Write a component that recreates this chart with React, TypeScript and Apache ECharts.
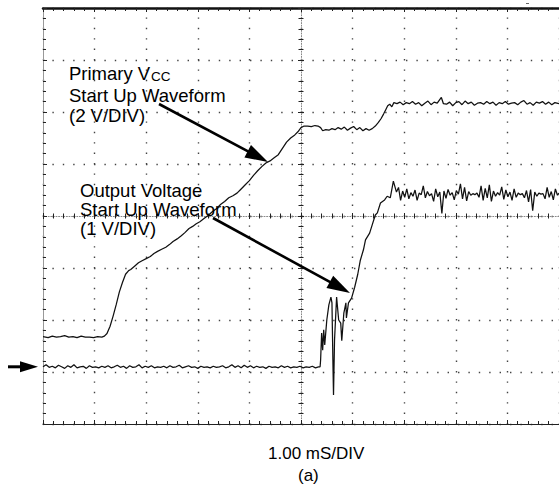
import React, { useEffect, useRef } from "react";
import * as echarts from "echarts";

// Horizontal: time in ms relative to screen centre (1.00 mS/DIV), vertical: divisions from screen centre
const TIME_MIN = -5;
const TIME_MAX = 5;
const DIV_MIN = -4;
const DIV_MAX = 4;

// Primary VCC start-up waveform (2 V/DIV), [time ms, divisions]
const vccTrace: [number, number][] = [
  [-5.0, -2.32], [-4.9, -2.34], [-4.82, -2.31], [-4.74, -2.33], [-4.66, -2.32], [-4.58, -2.3], [-4.5, -2.33],
  [-4.42, -2.32], [-4.34, -2.34], [-4.26, -2.31], [-4.18, -2.33], [-4.1, -2.33], [-4.02, -2.34], [-3.94, -2.32],
  [-3.86, -2.33], [-3.81, -2.31],
  [-3.76, -2.26], [-3.7, -2.12], [-3.64, -1.92], [-3.58, -1.7], [-3.52, -1.46], [-3.46, -1.28], [-3.4, -1.12],
  [-3.34, -1.05], [-3.3, -1.03],
  [-3.22, -0.96], [-3.15, -0.9], [-3.08, -0.86], [-3.0, -0.82], [-2.92, -0.78], [-2.85, -0.72], [-2.78, -0.68],
  [-2.7, -0.64], [-2.62, -0.6], [-2.55, -0.55], [-2.48, -0.49], [-2.4, -0.44], [-2.32, -0.38], [-2.25, -0.32],
  [-2.17, -0.24], [-2.1, -0.2], [-2.03, -0.15], [-1.96, -0.11], [-1.88, -0.05], [-1.8, 0.01], [-1.72, 0.08],
  [-1.64, 0.14], [-1.56, 0.22], [-1.48, 0.28], [-1.4, 0.35], [-1.32, 0.39], [-1.24, 0.44], [-1.16, 0.52],
  [-1.08, 0.6], [-1.0, 0.68], [-0.92, 0.78], [-0.84, 0.87], [-0.76, 0.95], [-0.68, 1.02], [-0.6, 1.06],
  [-0.52, 1.12], [-0.44, 1.18], [-0.36, 1.3], [-0.28, 1.42], [-0.2, 1.5], [-0.12, 1.56], [-0.06, 1.62],
  [0.0, 1.7], [0.06, 1.73],
  [0.13, 1.73], [0.2, 1.72], [0.27, 1.74], [0.33, 1.73], [0.38, 1.7], [0.42, 1.64], [0.48, 1.66], [0.54, 1.65],
  [0.6, 1.68], [0.66, 1.66], [0.72, 1.7], [0.78, 1.67], [0.84, 1.71], [0.9, 1.65], [0.96, 1.69], [1.02, 1.72],
  [1.08, 1.66], [1.14, 1.7], [1.2, 1.64], [1.26, 1.68], [1.32, 1.65],
  [1.38, 1.68], [1.44, 1.73], [1.5, 1.8], [1.55, 1.87], [1.6, 1.96], [1.64, 2.04], [1.68, 2.12], [1.72, 2.15],
  [1.76, 2.1], [1.8, 2.18],
  [1.86, 2.16], [1.92, 2.19], [1.98, 2.14], [2.04, 2.18], [2.1, 2.16], [2.16, 2.2], [2.22, 2.15], [2.28, 2.18],
  [2.34, 2.12], [2.4, 2.17], [2.46, 2.21], [2.52, 2.14], [2.58, 2.19], [2.64, 2.17], [2.72, 2.28], [2.76, 2.16],
  [2.82, 2.15], [2.88, 2.19], [2.94, 2.12], [3.0, 2.18], [3.06, 2.2], [3.12, 2.14], [3.18, 2.21], [3.24, 2.16],
  [3.3, 2.19], [3.36, 2.13], [3.42, 2.17], [3.48, 2.18], [3.54, 2.15], [3.6, 2.2], [3.66, 2.16], [3.72, 2.19],
  [3.78, 2.13], [3.84, 2.18], [3.9, 2.16], [3.96, 2.2], [4.02, 2.15], [4.08, 2.17], [4.14, 2.18], [4.2, 2.14],
  [4.26, 2.19], [4.32, 2.22], [4.38, 2.15], [4.44, 2.18], [4.5, 2.13], [4.56, 2.19], [4.62, 2.17], [4.68, 2.2],
  [4.74, 2.15], [4.8, 2.19], [4.86, 2.14], [4.92, 2.18], [5.0, 2.16],
];

// Output voltage start-up waveform (1 V/DIV), [time ms, divisions]
const outputTrace: [number, number][] = [
  [-5.0, -2.9], [-4.94, -2.86], [-4.88, -2.91], [-4.82, -2.89], [-4.76, -2.92], [-4.7, -2.87], [-4.64, -2.9],
  [-4.58, -2.93], [-4.52, -2.88], [-4.46, -2.91], [-4.4, -2.86], [-4.34, -2.92], [-4.28, -2.9], [-4.22, -2.89],
  [-4.16, -2.93], [-4.1, -2.88], [-4.04, -2.91], [-3.98, -2.9], [-3.92, -2.92], [-3.86, -2.89], [-3.8, -2.91],
  [-3.74, -2.88], [-3.68, -2.92], [-3.62, -2.9], [-3.56, -2.87], [-3.5, -2.91], [-3.44, -2.89], [-3.38, -2.93],
  [-3.32, -2.88], [-3.26, -2.91], [-3.2, -2.9], [-3.14, -2.86], [-3.08, -2.92], [-3.02, -2.89], [-2.96, -2.91],
  [-2.9, -2.88], [-2.84, -2.92], [-2.78, -2.9], [-2.72, -2.91], [-2.66, -2.89], [-2.6, -2.92], [-2.54, -2.88],
  [-2.48, -2.91], [-2.42, -2.9], [-2.36, -2.87], [-2.3, -2.92], [-2.24, -2.9], [-2.18, -2.88], [-2.12, -2.91],
  [-2.06, -2.9], [-2.0, -2.93], [-1.94, -2.89], [-1.88, -2.91], [-1.82, -2.9], [-1.76, -2.92], [-1.7, -2.89],
  [-1.64, -2.91], [-1.58, -2.9], [-1.52, -2.88], [-1.46, -2.92], [-1.4, -2.9], [-1.34, -2.86], [-1.28, -2.91],
  [-1.22, -2.88], [-1.16, -2.92], [-1.1, -2.87], [-1.04, -2.91], [-0.98, -2.88], [-0.92, -2.92], [-0.86, -2.89],
  [-0.8, -2.91], [-0.74, -2.9], [-0.68, -2.93], [-0.62, -2.89], [-0.56, -2.91], [-0.5, -2.9], [-0.44, -2.92],
  [-0.38, -2.88], [-0.32, -2.91], [-0.26, -2.89], [-0.2, -2.92], [-0.14, -2.9], [-0.08, -2.91], [-0.02, -2.89],
  [0.04, -2.92], [0.1, -2.9], [0.16, -2.91], [0.22, -2.89], [0.28, -2.92], [0.34, -2.9],
  [0.37, -2.9], [0.38, -2.77], [0.4, -2.25], [0.42, -2.58], [0.44, -2.19], [0.46, -2.48], [0.5, -2.0],
  [0.54, -1.71], [0.58, -1.56], [0.6, -1.67], [0.62, -2.9], [0.63, -3.44], [0.65, -2.38], [0.69, -1.56],
  [0.73, -2.0], [0.77, -2.06], [0.79, -2.4], [0.83, -1.87], [0.87, -1.67], [0.88, -1.96], [0.92, -1.67],
  [0.98, -1.58], [1.04, -1.37], [1.1, -1.12], [1.15, -0.85], [1.21, -0.65], [1.25, -0.46], [1.33, -0.33],
  [1.38, -0.17], [1.44, 0.02], [1.48, 0.06], [1.54, 0.25], [1.62, 0.31], [1.67, 0.38], [1.73, 0.35],
  [1.79, 0.67], [1.85, 0.46],
  [1.89, 0.55], [1.93, 0.3], [1.97, 0.48], [2.01, 0.36], [2.05, 0.52], [2.09, 0.33], [2.13, 0.45], [2.17, 0.38],
  [2.21, 0.5], [2.25, 0.3], [2.29, 0.44], [2.33, 0.41], [2.37, 0.58], [2.41, 0.35], [2.45, 0.47], [2.49, 0.39],
  [2.53, 0.43], [2.57, 0.28], [2.61, 0.52], [2.65, 0.37], [2.69, 0.46], [2.73, 0.05], [2.77, 0.48], [2.81, 0.34],
  [2.85, 0.51], [2.89, 0.4], [2.93, 0.45], [2.97, 0.31], [3.01, 0.49], [3.05, 0.42], [3.09, 0.62], [3.13, 0.33],
  [3.17, 0.55], [3.21, 0.29], [3.25, 0.47], [3.29, 0.4], [3.33, 0.43], [3.37, 0.41], [3.41, 0.44], [3.45, 0.36],
  [3.49, 0.58], [3.53, 0.3], [3.57, 0.53], [3.61, 0.35], [3.65, 0.6], [3.69, 0.28], [3.73, 0.48], [3.77, 0.38],
  [3.81, 0.45], [3.85, 0.4], [3.89, 0.56], [3.93, 0.32], [3.97, 0.5], [4.01, 0.37], [4.05, 0.46], [4.09, 0.3],
  [4.13, 0.52], [4.17, 0.36], [4.21, 0.44], [4.25, 0.41], [4.29, 0.43], [4.33, 0.35], [4.37, 0.49], [4.41, 0.27],
  [4.45, 0.51], [4.49, 0.1], [4.53, 0.46], [4.57, 0.38], [4.61, 0.44], [4.65, 0.42], [4.69, 0.43], [4.73, 0.33],
  [4.77, 0.55], [4.81, 0.36], [4.85, 0.47], [4.89, 0.31], [4.93, 0.52], [4.97, 0.4], [5.0, 0.44],
];

// Ground reference of the output channel (divisions)
const outputGround = -2.9;

const FONT = '"Liberation Sans", Arial, Helvetica, sans-serif';
const INK = "#111";

const dotted = { color: "#444", width: 1.4, type: [1.4, 9.0], dashOffset: 0.7 };

const baseX = {
  type: "value",
  min: TIME_MIN,
  max: TIME_MAX,
  interval: 1,
  axisLabel: { show: false },
  splitLine: { show: false },
};
const baseY = {
  type: "value",
  min: DIV_MIN,
  max: DIV_MAX,
  interval: 1,
  axisLabel: { show: false },
  splitLine: { show: false },
};

function txt(text: string, x: number, y: number, size: number) {
  return {
    type: "text",
    x,
    y,
    z: 100,
    style: { text, fontSize: size, fontFamily: FONT, fill: "#000", verticalAlign: "top", align: "left" },
  };
}

function arrow(x1: number, y1: number, x2: number, y2: number, len: number, half: number, w: number) {
  const dx = x2 - x1;
  const dy = y2 - y1;
  const L = Math.sqrt(dx * dx + dy * dy);
  const ux = dx / L;
  const uy = dy / L;
  const bx = x2 - ux * len;
  const by = y2 - uy * len;
  return [
    {
      type: "line",
      z: 100,
      shape: { x1, y1, x2: bx + ux * 2, y2: by + uy * 2 },
      style: { stroke: "#000", lineWidth: w },
    },
    {
      type: "polygon",
      z: 100,
      shape: {
        points: [
          [x2, y2],
          [bx - uy * half, by + ux * half],
          [bx + uy * half, by - ux * half],
        ],
      },
      style: { fill: "#000" },
    },
  ];
}

export default function App() {
  const ref = useRef<HTMLDivElement>(null);
  useEffect(() => {
    if (!ref.current) return;
    const chart = echarts.init(ref.current, undefined, { renderer: "svg" });
    const tickStyle = { color: "#222", width: 1 };
    chart.setOption({
      animation: false,
      backgroundColor: "#fff",
      grid: { left: 43, top: 8, width: 520, height: 416, containLabel: false },
      xAxis: [
        {
          ...baseX,
          position: "bottom",
          axisLine: { show: true, onZero: false, lineStyle: { color: "#222", width: 1.2 } },
          axisTick: { show: true, inside: true, length: 4, lineStyle: tickStyle },
          minorTick: { show: true, splitNumber: 5, length: 3, lineStyle: tickStyle },
          splitLine: { show: true, lineStyle: dotted },
        },
        {
          ...baseX,
          position: "top",
          axisLine: { show: true, onZero: false, lineStyle: { color: "#111", width: 2.5 } },
          axisTick: { show: true, inside: true, length: 4, lineStyle: tickStyle },
          minorTick: { show: true, splitNumber: 5, length: 3, lineStyle: tickStyle },
        },
        {
          ...baseX,
          position: "bottom",
          axisLine: {
            show: true,
            onZero: true,
            onZeroAxisIndex: 0,
            lineStyle: { color: "#888", width: 1, type: [1, 1.6] },
          },
          axisTick: { show: true, inside: true, length: 3, lineStyle: tickStyle },
          minorTick: { show: true, splitNumber: 5, length: 2.5, lineStyle: tickStyle },
        },
        {
          ...baseX,
          position: "top",
          axisLine: { show: false, onZero: true, onZeroAxisIndex: 0 },
          axisTick: { show: true, inside: true, length: 3, lineStyle: tickStyle },
          minorTick: { show: true, splitNumber: 5, length: 2.5, lineStyle: tickStyle },
        },
      ],
      yAxis: [
        {
          ...baseY,
          position: "left",
          axisLine: { show: true, onZero: false, lineStyle: { color: "#999", width: 1 } },
          axisTick: { show: true, inside: true, length: 4, lineStyle: tickStyle },
          minorTick: { show: true, splitNumber: 5, length: 3, lineStyle: tickStyle },
          splitLine: { show: true, lineStyle: dotted },
        },
        {
          ...baseY,
          position: "left",
          axisLine: {
            show: true,
            onZero: true,
            onZeroAxisIndex: 0,
            lineStyle: { color: "#888", width: 1, type: [1, 1.6] },
          },
          axisTick: { show: true, inside: true, length: 3, lineStyle: tickStyle },
          minorTick: { show: true, splitNumber: 5, length: 2.5, lineStyle: tickStyle },
        },
        {
          ...baseY,
          position: "right",
          axisLine: { show: false, onZero: true, onZeroAxisIndex: 0 },
          axisTick: { show: true, inside: true, length: 3, lineStyle: tickStyle },
          minorTick: { show: true, splitNumber: 5, length: 2.5, lineStyle: tickStyle },
        },
      ],
      series: [
        {
          name: "Primary VCC",
          type: "line",
          xAxisIndex: 0,
          yAxisIndex: 0,
          data: vccTrace,
          showSymbol: false,
          symbol: "none",
          lineStyle: { color: INK, width: 1.25 },
          z: 10,
        },
        {
          name: "Output Voltage",
          type: "line",
          xAxisIndex: 0,
          yAxisIndex: 0,
          data: outputTrace,
          showSymbol: false,
          symbol: "none",
          lineStyle: { color: INK, width: 1.25 },
          z: 10,
        },
      ],
    });

    const gy = chart.convertToPixel({ yAxisIndex: 0 }, outputGround) as number;
    const gx = chart.convertToPixel({ xAxisIndex: 0 }, TIME_MIN) as number;

    chart.setOption({
      graphic: [
        // channel ground marker
        { type: "line", z: 100, shape: { x1: gx - 35, y1: gy, x2: gx - 20, y2: gy }, style: { stroke: "#000", lineWidth: 3 } },
        {
          type: "polygon",
          z: 100,
          shape: { points: [[gx - 5, gy], [gx - 23, gy - 5.5], [gx - 23, gy + 5.5]] },
          style: { fill: "#000" },
        },
        ...arrow(159, 104, 268, 162, 23, 7, 2.6),
        ...arrow(213, 218, 350, 293, 23, 7, 2.6),
        txt("Primary V", 69, 64, 18.5),
        txt("CC", 151, 69.5, 13.5),
        txt("Start Up Waveform", 69, 85.5, 18.5),
        txt("(2 V/DIV)", 69, 105.5, 18.5),
        txt("Output Voltage", 80, 180.5, 18.5),
        txt("Start Up Waveform", 80, 199.5, 18.5),
        txt("(1 V/DIV)", 80, 218.5, 18.5),
        txt("1.00 mS/DIV", 268, 445, 17),
        txt("(a)", 298, 467, 17),
        { type: "rect", z: 100, shape: { x: 526, y: 3, width: 3, height: 1 }, style: { fill: "#666" } },
      ],
    });

    return () => chart.dispose();
  }, []);
  return (
    <div
      ref={ref}
      style={{ position: "absolute", left: 0, top: 0, width: 559, height: 486, background: "#fff" }}
    />
  );
}
